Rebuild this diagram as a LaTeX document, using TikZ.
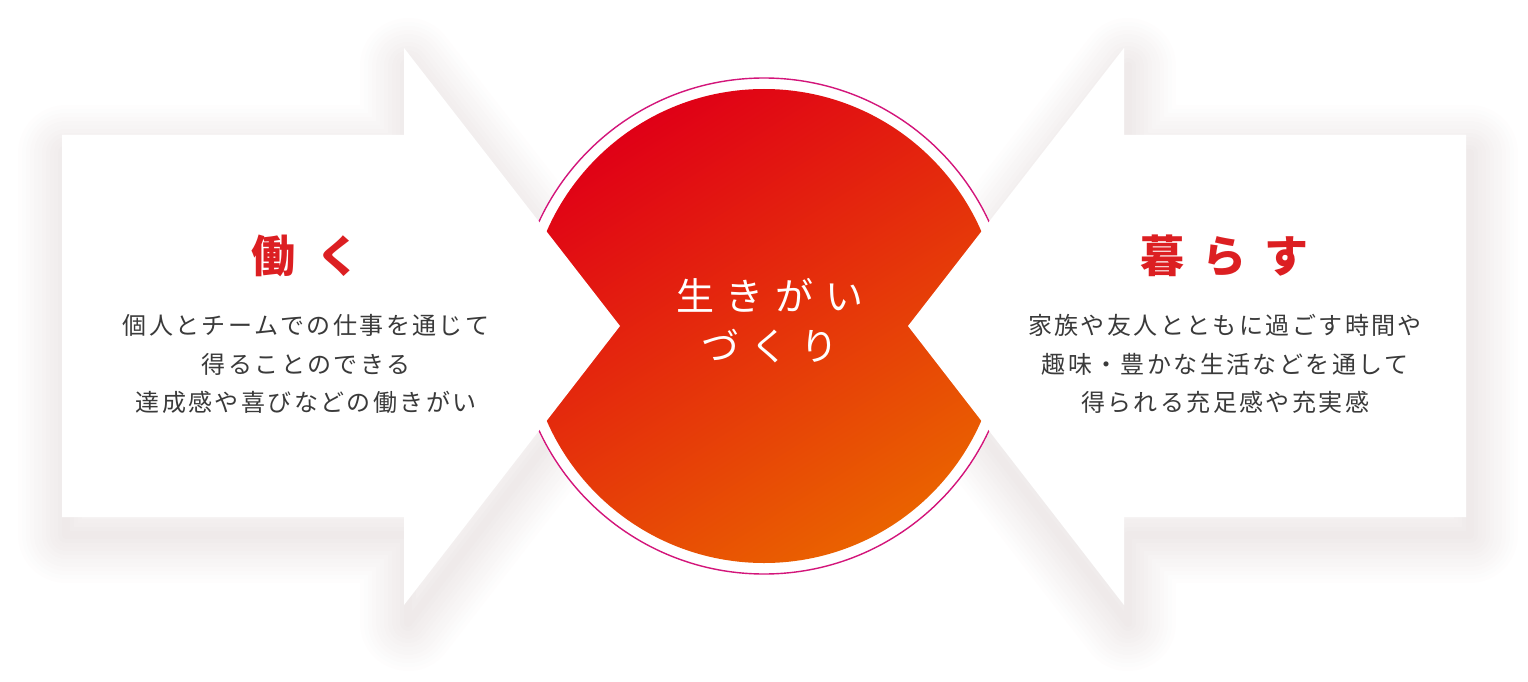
\documentclass[tikz,border=0pt]{standalone}
\usepackage{fontspec}
\setmainfont{Noto Sans CJK JP}
\usepackage{tikz}
\definecolor{ikRed}{HTML}{E00016}
\definecolor{ikMid}{HTML}{E3340C}
\definecolor{ikOrange}{HTML}{EA6200}
\definecolor{ikRing}{HTML}{D3157A}
\definecolor{ikTitle}{HTML}{DC1F22}
\definecolor{ikText}{HTML}{3A3A3A}
\definecolor{ikShadow}{HTML}{8E6C6C}
\newcommand{\kgap}[1]{\hspace{#1pt}}
\newcommand{\leftarm}{(62,135) -- (404,135) -- (404,48) -- (620,326) -- (404,605) -- (404,517) -- (62,517) -- cycle}
\newcommand{\rightarm}{(1466,135) -- (1124,135) -- (1124,48) -- (908,326) -- (1124,605) -- (1124,517) -- (1466,517) -- cycle}

\begin{document}
\begin{tikzpicture}[
  x=1pt,y=-1pt,
  halo/.style={draw=ikShadow,line join=round,draw opacity=0.013,shift={(4,18)}},
  armfill/.style={fill=white},
  title/.style={text=ikTitle,inner sep=0pt,font=\fontsize{44}{44}\selectfont\bfseries},
  desc/.style={text=ikText,align=center,inner sep=0pt,
    font=\fontsize{24}{38.5}\selectfont\addfontfeature{LetterSpace=10}},
  core/.style={text=white,align=center,inner sep=0pt,font=\fontsize{38}{50}\selectfont}
]
\useasboundingbox (0,0) rectangle (1528,682);
% soft shadow of both arms
\foreach \w in {8,16,...,96}{
  \draw[halo,line width=\w] \leftarm;
  \draw[halo,line width=\w] \rightarm;
}
% centre disc
\fill[white] (764,326) circle (249);
\shade[top color=ikRed,middle color=ikMid,bottom color=ikOrange,shading angle=32]
  (764,326) circle (237);
\draw[ikRing,line width=1.4] (764,326) circle (248);
% arms
\path[armfill] \leftarm;
\path[armfill] \rightarm;

\node[title] (workhead) at (306,256) {働\kgap{21}く};
\node[desc] (worktext) at (306,364) {個人とチームでの仕事を通じて\\得ることのできる\\達成感や喜びなどの働きがい};
\node[title] (lifehead) at (1224,256) {暮\kgap{18}ら\kgap{18}す};
\node[desc] (lifetext) at (1225,364) {家族や友人とともに過ごす時間や\\趣味・豊かな生活などを通して\\得られる充足感や充実感};
\node[core] (ikigai) at (770,321) {生\kgap{12}き\kgap{12}が\kgap{12}い\\づ\kgap{12}く\kgap{12}り};
\end{tikzpicture}
\end{document}
